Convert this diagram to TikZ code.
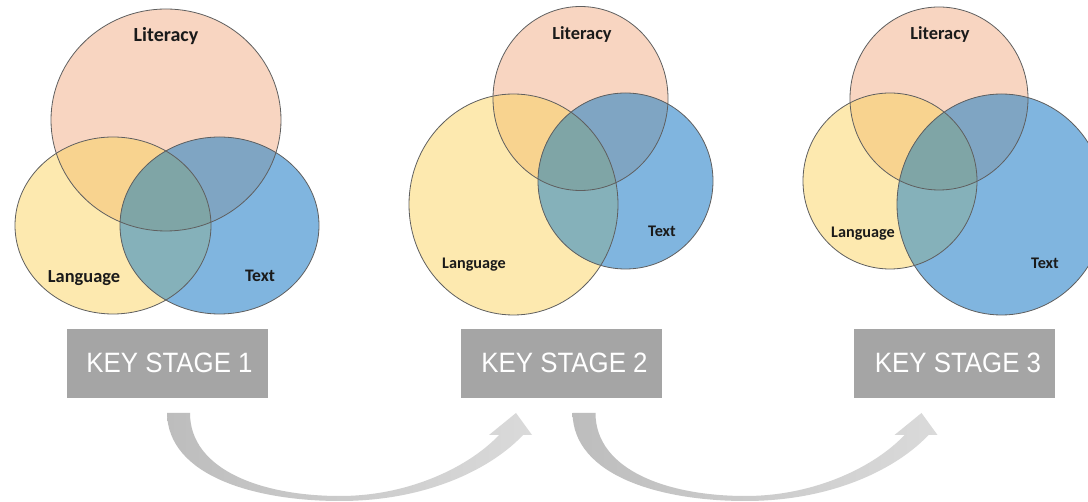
\documentclass[tikz,border=0pt]{standalone}
\usepackage{fontspec}
\setmainfont{Carlito}
\newfontfamily\ksfont{Liberation Sans}
\definecolor{cLit}{HTML}{F8D5C1}
\definecolor{cLang}{HTML}{FDE9AF}
\definecolor{cText}{HTML}{80B5DF}
\definecolor{cLitLang}{HTML}{F8D38F}
\definecolor{cLitText}{HTML}{7FA5C3}
\definecolor{cLangText}{HTML}{85B1BA}
\definecolor{cAll}{HTML}{7FA5A6}
\definecolor{cLine}{HTML}{5F5F5F}
\definecolor{boxgray}{HTML}{A5A5A5}
\definecolor{arrowL}{HTML}{BDBDBD}
\definecolor{arrowR}{HTML}{DADADA}
\definecolor{labelink}{HTML}{1A1A1A}
\tikzset{
  outline/.style={draw=cLine, line width=0.8pt},
  vlabel/.style={anchor=base, inner sep=0pt, text=labelink, font=\bfseries},
  ksbox/.style={fill=boxgray, draw=none, minimum width=201pt, minimum height=69pt, inner sep=0pt},
  kstext/.style={anchor=base, inner sep=0pt, text=white, font=\ksfont\fontsize{28}{30}\selectfont},
}
\newcommand\drawvenn{%
  \fill[cLang] \Lang;
  \fill[cLit] \Lit;
  \fill[cText] \Txt;
  \begin{scope}\clip \Lit; \fill[cLitLang] \Lang;\end{scope}
  \begin{scope}\clip \Lit; \fill[cLitText] \Txt;\end{scope}
  \begin{scope}\clip \Lang; \fill[cLangText] \Txt;\end{scope}
  \begin{scope}\clip \Lit; \clip \Lang; \fill[cAll] \Txt;\end{scope}
  \draw[outline] \Lit;
  \draw[outline] \Lang;
  \draw[outline] \Txt;
}
\newcommand\bigarrow{%
  \shade[left color=arrowL, right color=arrowR]
    (167,413) .. controls (168,476) and (255,501) .. (340,501)
    .. controls (428,501) and (492,468) .. (523,435)
    -- (532,435) -- (516,413) -- (489,435) -- (499,435)
    .. controls (470,466) and (410,496) .. (340,496)
    .. controls (262,496) and (190,470) .. (190,413) -- cycle;
}
\begin{document}
\begin{tikzpicture}[x=1pt,y=-1pt]
\useasboundingbox (0,0) rectangle (1088,502);
\clip (0,0) rectangle (1088,502);
\fill[white] (0,0) rectangle (1088,502);

% ---------- Key stage 1 ----------
\def\Lit{(166,120) ellipse [x radius=115, y radius=111]}
\def\Lang{(113,225.5) ellipse [x radius=98, y radius=88.5]}
\def\Txt{(219.5,225.5) ellipse [x radius=99.5, y radius=88.5]}
\drawvenn
\node[vlabel, font=\bfseries\fontsize{20}{24}\selectfont] (lit1) at (166,42) {Literacy};
\node[vlabel, font=\bfseries\fontsize{18.4}{22}\selectfont] (lang1) at (84,283) {Language};
\node[vlabel, font=\bfseries\fontsize{17.6}{21}\selectfont] (text1) at (260,282) {Text};

% ---------- Key stage 2 ----------
\def\Lit{(580.5,98.5) ellipse [x radius=87.5, y radius=92]}
\def\Lang{(513.5,204.5) ellipse [x radius=104.5, y radius=110.5]}
\def\Txt{(625.5,181) ellipse [x radius=87.5, y radius=88]}
\drawvenn
\node[vlabel, font=\bfseries\fontsize{18.4}{22}\selectfont] (lit2) at (582,40) {Literacy};
\node[vlabel, font=\bfseries\fontsize{16.2}{20}\selectfont] (lang2) at (474,269) {Language};
\node[vlabel, font=\bfseries\fontsize{16.2}{20}\selectfont] (text2) at (662,237) {Text};

% ---------- Key stage 3 ----------
\def\Lit{(939,98.5) ellipse [x radius=89, y radius=91.5]}
\def\Lang{(890,181) ellipse [x radius=87, y radius=88]}
\def\Txt{(1001.5,204.5) ellipse [x radius=104.5, y radius=110.5]}
\drawvenn
\node[vlabel, font=\bfseries\fontsize{18.4}{22}\selectfont] (lit3) at (940,40) {Literacy};
\node[vlabel, font=\bfseries\fontsize{16.2}{20}\selectfont] (lang3) at (863,238) {Language};
\node[vlabel, font=\bfseries\fontsize{16.2}{20}\selectfont] (text3) at (1045,269) {Text};

% ---------- stage boxes ----------
\node[ksbox] (ks1) at (167.5,363.5) {};
\node[ksbox] (ks2) at (561,363.5) {};
\node[ksbox] (ks3) at (954.5,363.5) {};
\node[kstext] (ks1t) at (169.5,373) {\scalebox{0.923}[1]{KEY STAGE 1}};
\node[kstext] (ks2t) at (564.5,373) {\scalebox{0.923}[1]{KEY STAGE 2}};
\node[kstext] (ks3t) at (958,373) {\scalebox{0.923}[1]{KEY STAGE 3}};

% ---------- curved arrows ----------
\bigarrow
\begin{scope}[xshift=405.5pt]
\bigarrow
\end{scope}
\end{tikzpicture}
\end{document}
